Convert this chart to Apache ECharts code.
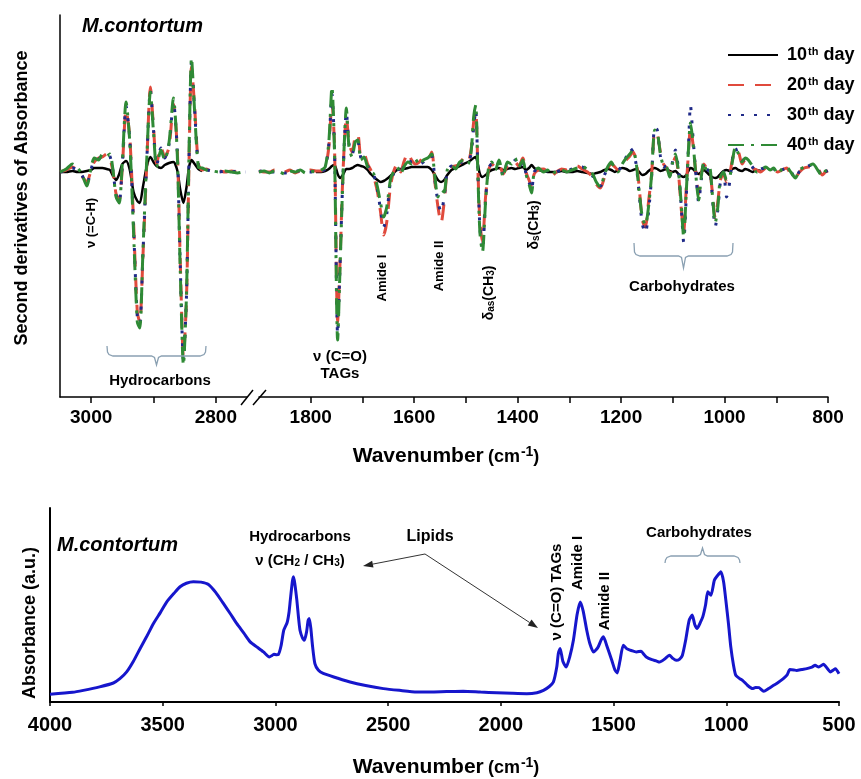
<!DOCTYPE html>
<html>
<head>
<meta charset="utf-8">
<title>M.contortum FTIR spectra</title>
<script src="https://cdn.jsdelivr.net/npm/echarts@6/dist/echarts.min.js"></script>
<style>
    html, body { margin: 0; padding: 0; background: #fff; }
    #chart { width: 861px; height: 779px; }
</style>
</head>
<body>
<div id="chart"></div>
<script>

// Wavenumbers (cm-1) of the second derivative spectra, left and right of the axis break
var wnLeft = [
    3050, 3040, 3030, 3022, 3015, 3007, 3000, 2995, 2988, 2982,
    2975, 2970, 2965, 2960, 2955, 2950, 2944, 2938, 2932, 2926,
    2922, 2917, 2911, 2905, 2900, 2895, 2888, 2882, 2875, 2868,
    2862, 2857, 2852, 2847, 2843, 2839, 2834, 2828, 2822, 2815,
    2805, 2795, 2785, 2775, 2765, 2755, 2752
];
var wnRight = [
    1900, 1890, 1880, 1870, 1860, 1850, 1840, 1830, 1820, 1810,
    1800, 1790, 1780, 1772, 1765, 1759, 1754, 1748, 1743, 1738,
    1731, 1726, 1720, 1714, 1709, 1703, 1697, 1690, 1684, 1678,
    1671, 1665, 1659, 1653, 1646, 1640, 1633, 1626, 1620, 1612,
    1605, 1598, 1590, 1582, 1574, 1566, 1560, 1554, 1548, 1542,
    1536, 1528, 1520, 1512, 1504, 1496, 1490, 1485, 1481, 1477,
    1473, 1468, 1462, 1456, 1450, 1443, 1436, 1428, 1420, 1412,
    1405, 1398, 1390, 1384, 1378, 1373, 1368, 1360, 1350, 1342,
    1335, 1325, 1315, 1305, 1295, 1285, 1275, 1265, 1255, 1248,
    1240, 1232, 1225, 1219, 1212, 1206, 1198, 1190, 1183, 1177,
    1171, 1165, 1159, 1153, 1147, 1141, 1135, 1130, 1124, 1118,
    1112, 1106, 1100, 1095, 1089, 1084, 1079, 1074, 1069, 1066,
    1061, 1056, 1050, 1045, 1040, 1035, 1029, 1024, 1018, 1013,
    1008, 1002, 996, 990, 985, 979, 973, 966, 960, 954,
    946, 938, 930, 920, 912, 905, 897, 889, 880, 872,
    863, 855, 846, 838, 829, 820, 811, 805, 800
];

// Second derivative values (a.u.)
var day10Left = [
    0.00, 0.00, 0.01, 0.00, 0.00, 0.01, 0.02, 0.04, 0.04, 0.04,
    0.03, 0.02, -0.04, -0.08, -0.02, 0.08, 0.11, 0.02, -0.20, -0.29,
    -0.31, -0.15, 0.05, 0.15, 0.10, 0.06, 0.04, 0.07, 0.09, 0.10,
    0.02, -0.18, -0.31, -0.15, 0.05, 0.12, 0.08, 0.03, 0.01, null,
    null, null, null, null, null, null, null
];
var day20Left = [
    0.00, 0.02, 0.05, 0.01, -0.04, -0.10, 0.02, 0.10, 0.14, 0.15,
    0.18, 0.14, 0.00, -0.22, -0.28, 0.05, 0.62, 0.35, -0.50, -1.40,
    -1.50, -0.85, 0.05, 0.85, 0.45, 0.08, 0.25, 0.15, 0.25, 0.68,
    0.25, -0.90, -1.85, -1.25, 0.10, 1.05, 0.65, 0.08, 0.02, 0.03,
    0.00, 0.01, 0.00, 0.01, 0.00, -0.01, 0.00
];
var day30Left = [
    0.00, 0.01, 0.04, 0.02, -0.03, -0.12, 0.03, 0.12, 0.13, 0.16,
    0.17, 0.16, 0.01, -0.23, -0.30, 0.08, 0.66, 0.32, -0.55, -1.45,
    -1.52, -0.82, 0.08, 0.82, 0.42, 0.06, 0.24, 0.14, 0.28, 0.70,
    0.22, -0.95, -1.88, -1.22, 0.15, 1.10, 0.62, 0.06, 0.03, 0.02,
    0.01, 0.00, 0.01, 0.00, 0.01, 0.00, 0.00
];
var day40Left = [
    0.00, 0.03, 0.08, 0.04, -0.02, -0.14, 0.05, 0.14, 0.12, 0.18,
    0.16, 0.18, 0.02, -0.25, -0.31, 0.10, 0.70, 0.30, -0.60, -1.50,
    -1.56, -0.80, 0.10, 0.80, 0.40, 0.05, 0.22, 0.12, 0.30, 0.74,
    0.20, -1.00, -1.93, -1.20, 0.20, 1.14, 0.60, 0.05, 0.04, 0.02,
    0.01, 0.00, 0.01, 0.00, -0.01, 0.00, 0.00
];

var day10Right = [
    null, null, null, null, null, null, null, null, null, null,
    null, 0.00, 0.00, 0.01, 0.03, 0.06, 0.07, -0.02, -0.06, -0.03,
    0.03, 0.03, 0.04, 0.06, 0.07, 0.06, 0.05, 0.02, -0.02, -0.05,
    -0.08, -0.10, -0.09, -0.07, -0.04, -0.01, 0.02, 0.03, 0.03, 0.04,
    0.05, 0.05, 0.05, 0.05, 0.05, 0.02, -0.03, -0.08, -0.10, -0.08,
    -0.03, 0.02, 0.04, 0.06, 0.08, 0.10, 0.12, 0.14, 0.15, 0.08,
    -0.02, -0.05, -0.03, 0.00, 0.02, 0.03, 0.04, 0.02, 0.03, 0.04,
    0.03, 0.04, 0.05, 0.02, 0.04, 0.07, 0.04, 0.02, 0.01, 0.00,
    0.00, 0.00, 0.01, 0.00, 0.00, 0.01, 0.00, -0.01, -0.02, -0.01,
    0.00, 0.02, 0.03, 0.02, 0.00, 0.02, 0.04, 0.03, 0.01, 0.02,
    0.03, 0.00, -0.03, -0.02, 0.01, 0.03, 0.04, 0.03, 0.01, 0.02,
    0.03, 0.01, 0.00, 0.01, -0.02, -0.04, -0.05, -0.03, 0.02, 0.04,
    0.03, 0.00, -0.02, 0.00, 0.02, 0.00, -0.03, -0.05, -0.06, -0.05,
    -0.02, 0.01, 0.02, 0.01, 0.03, 0.04, 0.02, 0.01, 0.03, 0.02,
    0.00, 0.02, 0.01, null, null, null, null, null, null, null,
    null, null, null, null, null, null, null, null, null
];
var day20Right = [
    0.01, 0.00, 0.00, 0.02, -0.01, 0.00, 0.02, -0.01, 0.01, 0.00,
    0.02, 0.01, 0.01, 0.04, 0.25, 0.70, 0.25, -1.50, -0.85, -0.05,
    0.55, 0.30, 0.20, 0.35, 0.38, 0.15, 0.18, 0.08, 0.02, -0.05,
    -0.20, -0.40, -0.63, -0.50, -0.15, 0.00, 0.08, 0.00, 0.10, 0.19,
    0.12, 0.08, 0.10, 0.15, 0.12, 0.20, -0.10, -0.35, -0.51, -0.30,
    0.00, 0.05, 0.06, 0.08, 0.14, 0.10, 0.22, 0.50, 0.60, 0.05,
    -0.50, -0.70, -0.25, 0.02, 0.08, 0.05, 0.08, -0.02, 0.06, 0.10,
    0.10, 0.06, 0.14, 0.00, -0.08, -0.15, -0.02, 0.02, 0.03, 0.00,
    -0.04, 0.00, 0.03, 0.02, 0.05, 0.06, 0.03, 0.00, -0.05, -0.12,
    -0.16, -0.05, 0.04, 0.08, 0.05, 0.02, 0.06, 0.12, 0.16, 0.20,
    0.12, -0.15, -0.48, -0.55, -0.30, -0.02, 0.40, 0.38, 0.20, 0.08,
    0.04, -0.02, 0.08, 0.15, -0.02, -0.35, -0.60, -0.15, 0.25, 0.45,
    0.28, 0.02, -0.22, -0.02, 0.08, 0.04, 0.02, -0.18, -0.46, -0.30,
    -0.08, -0.02, -0.10, -0.02, 0.12, 0.22, 0.20, 0.08, 0.12, 0.10,
    0.04, 0.02, 0.00, 0.04, 0.03, 0.02, 0.00, 0.02, 0.04, -0.02,
    -0.05, 0.00, 0.04, 0.05, 0.06, 0.04, -0.03, 0.00, 0.01
];
var day30Right = [
    0.00, 0.02, 0.00, 0.00, 0.01, -0.01, 0.00, 0.01, 0.01, 0.00,
    0.00, 0.01, 0.01, 0.03, 0.28, 0.78, 0.22, -1.62, -0.88, -0.08,
    0.60, 0.28, 0.18, 0.28, 0.30, 0.14, 0.12, 0.06, 0.02, -0.03,
    -0.18, -0.38, -0.55, -0.42, -0.10, -0.02, 0.06, -0.03, 0.06, 0.12,
    0.10, 0.10, 0.08, 0.10, 0.16, 0.16, -0.08, -0.30, -0.40, -0.25,
    0.00, 0.06, 0.04, 0.09, 0.10, 0.10, 0.18, 0.45, 0.62, 0.03,
    -0.55, -0.78, -0.28, 0.04, 0.08, 0.04, 0.10, -0.03, 0.08, 0.06,
    0.12, 0.04, 0.10, -0.01, -0.10, -0.18, 0.00, 0.03, 0.01, 0.01,
    -0.02, 0.00, 0.02, 0.01, 0.03, 0.05, 0.05, 0.01, -0.04, -0.11,
    -0.14, -0.03, 0.05, 0.09, 0.04, 0.01, 0.08, 0.15, 0.24, 0.20,
    0.08, -0.22, -0.52, -0.61, -0.40, -0.05, 0.45, 0.42, 0.16, 0.05,
    0.06, -0.04, 0.12, 0.22, 0.02, -0.32, -0.70, -0.25, 0.35, 0.67,
    0.35, 0.02, -0.30, -0.08, 0.08, 0.00, 0.04, -0.22, -0.55, -0.38,
    -0.10, 0.00, -0.25, -0.10, 0.12, 0.24, 0.16, 0.12, 0.12, 0.10,
    0.05, 0.00, 0.03, 0.04, 0.01, 0.03, -0.02, 0.02, 0.04, 0.01,
    -0.07, 0.01, 0.04, 0.06, 0.07, 0.03, -0.05, 0.00, 0.02
];
var day40Right = [
    0.00, 0.01, -0.01, 0.01, 0.00, -0.02, 0.01, 0.00, 0.02, -0.01,
    0.01, 0.00, 0.02, 0.05, 0.30, 0.85, 0.20, -1.68, -0.90, -0.10,
    0.64, 0.25, 0.15, 0.30, 0.32, 0.12, 0.15, 0.05, 0.00, -0.02,
    -0.15, -0.31, -0.45, -0.35, -0.08, 0.00, 0.05, -0.02, 0.05, 0.10,
    0.08, 0.13, 0.07, 0.12, 0.14, 0.18, -0.05, -0.25, -0.18, -0.20,
    0.02, 0.07, 0.03, 0.10, 0.12, 0.08, 0.20, 0.55, 0.67, 0.00,
    -0.60, -0.80, -0.30, 0.05, 0.10, 0.02, 0.12, -0.05, 0.10, 0.08,
    0.14, 0.05, 0.12, -0.02, -0.12, -0.21, 0.00, 0.04, 0.00, 0.02,
    -0.03, 0.01, 0.02, 0.00, 0.02, 0.04, 0.06, 0.02, -0.02, -0.10,
    -0.15, -0.02, 0.06, 0.10, 0.03, 0.00, 0.08, 0.14, 0.18, 0.22,
    0.10, -0.20, -0.45, -0.53, -0.35, -0.03, 0.42, 0.40, 0.18, 0.06,
    0.05, -0.05, 0.10, 0.18, 0.00, -0.30, -0.65, -0.20, 0.30, 0.49,
    0.30, 0.00, -0.28, -0.05, 0.10, 0.02, 0.05, -0.20, -0.51, -0.35,
    -0.05, 0.00, -0.08, -0.05, 0.10, 0.25, 0.18, 0.10, 0.14, 0.12,
    0.06, 0.00, 0.02, 0.05, 0.02, 0.04, -0.02, 0.03, 0.05, 0.00,
    -0.06, 0.02, 0.05, 0.06, 0.08, 0.02, -0.04, 0.01, 0.02
];

var dayNames = ['10th day', '20th day', '30th day', '40th day'];

// Axis ticks of the broken axis
var ticksLeft = [2800, 2900, 3000];
var labelsLeft = [2800, 3000];
var ticksRight = [800, 900, 1000, 1100, 1200, 1300, 1400, 1500, 1600, 1700, 1800];
var labelsRight = [800, 1000, 1200, 1400, 1600, 1800];

// Absorbance spectrum, 4000 - 500 cm-1
var wnFull = [
    4000, 3900, 3852, 3780, 3719, 3690, 3660, 3630, 3600, 3570,
    3541, 3510, 3482, 3450, 3423, 3395, 3364, 3330, 3297, 3265,
    3231, 3200, 3172, 3140, 3112, 3080, 3053, 3027, 3015, 3006,
    2995, 2987, 2975, 2963, 2948, 2940, 2934, 2925, 2920, 2914,
    2905, 2898, 2891, 2880, 2872, 2862, 2855, 2850, 2843, 2835,
    2825, 2810, 2788, 2730, 2669, 2600, 2521, 2450, 2373, 2313,
    2240, 2167, 2090, 2018, 1950, 1885, 1840, 1811, 1785, 1767,
    1752, 1745, 1737, 1725, 1710, 1695, 1678, 1662, 1648, 1635,
    1619, 1605, 1589, 1570, 1555, 1545, 1530, 1508, 1494, 1484,
    1472, 1457, 1442, 1427, 1412, 1398, 1378, 1365, 1355, 1330,
    1311, 1296, 1275, 1252, 1237, 1222, 1208, 1195, 1180, 1165,
    1151, 1140, 1129, 1115, 1104, 1092, 1082, 1068, 1053, 1040,
    1024, 1012, 1002, 990, 980, 968, 958, 940, 928, 905,
    884, 870, 855, 834, 812, 790, 770, 747, 730, 718,
    700, 688, 665, 643, 620, 606, 590, 569, 550, 538,
    525, 516, 500
];
var absorbance = [
    0.040, 0.050, 0.060, 0.078, 0.098, 0.120, 0.155, 0.210, 0.276, 0.340,
    0.405, 0.462, 0.516, 0.560, 0.594, 0.612, 0.620, 0.618, 0.606, 0.565,
    0.508, 0.455, 0.405, 0.355, 0.310, 0.282, 0.258, 0.232, 0.240, 0.246,
    0.244, 0.245, 0.290, 0.370, 0.410, 0.460, 0.525, 0.620, 0.645, 0.610,
    0.525, 0.440, 0.370, 0.330, 0.318, 0.360, 0.420, 0.430, 0.380, 0.284,
    0.198, 0.165, 0.147, 0.125, 0.103, 0.085, 0.069, 0.060, 0.052, 0.052,
    0.054, 0.055, 0.051, 0.048, 0.045, 0.043, 0.048, 0.060, 0.080, 0.103,
    0.180, 0.250, 0.276, 0.210, 0.180, 0.230, 0.320, 0.450, 0.516, 0.470,
    0.370, 0.300, 0.258, 0.280, 0.320, 0.336, 0.290, 0.215, 0.165, 0.150,
    0.210, 0.293, 0.275, 0.267, 0.262, 0.258, 0.262, 0.245, 0.232, 0.218,
    0.212, 0.206, 0.220, 0.241, 0.225, 0.215, 0.220, 0.240, 0.320, 0.420,
    0.448, 0.400, 0.379, 0.410, 0.440, 0.500, 0.568, 0.550, 0.628, 0.650,
    0.671, 0.620, 0.525, 0.400, 0.284, 0.190, 0.138, 0.120, 0.112, 0.085,
    0.069, 0.075, 0.074, 0.055, 0.070, 0.086, 0.100, 0.120, 0.140, 0.167,
    0.165, 0.163, 0.168, 0.172, 0.180, 0.189, 0.180, 0.194, 0.170, 0.155,
    0.165, 0.172, 0.146
];


var FONT = 'Arial, "Liberation Sans", sans-serif';

var supRich = {
    sup: { fontSize: 11, fontWeight: 'bold', fontFamily: FONT, lineHeight: 11, padding: [0, 0, 9, 1], verticalAlign: 'top' }
};
var subRich = {
    sub: { fontSize: 10, fontWeight: 'bold', fontFamily: FONT, lineHeight: 10, padding: [8, 0, 0, 0], verticalAlign: 'bottom' }
};
var titleRich = {
    w: { fontSize: 21, fontWeight: 'bold', fontFamily: FONT, lineHeight: 21, verticalAlign: 'bottom' },
    p: { fontSize: 18, fontWeight: 'bold', fontFamily: FONT, lineHeight: 18, verticalAlign: 'bottom' },
    sup: { fontSize: 14, fontWeight: 'bold', fontFamily: FONT, lineHeight: 14, padding: [0, 0, 11, 1], verticalAlign: 'top' }
};

function pairs(xs, ys) {
    return xs.map(function(x, i) { return [x, ys[i]]; });
}

// Annotation text
function label(x, y, text, o) {
    o = o || {};
    return {
        type: 'text',
        x: x,
        y: y,
        rotation: o.rotate ? Math.PI / 2 : 0,
        z: 20,
        style: {
            text: text,
            fill: '#000',
            fontFamily: FONT,
            fontSize: o.size || 15,
            fontWeight: o.weight || 'bold',
            fontStyle: o.italic ? 'italic' : 'normal',
            align: o.align || 'center',
            verticalAlign: 'middle',
            rich: o.rich
        }
    };
}

// Curly brace: ends at (x1, yEnd), flat part at yMid, tip at (xTip, yTip)
function brace(x1, x2, yEnd, yMid, yTip) {
    var xTip = (x1 + x2) / 2, s = yMid > yEnd ? 1 : -1;
    return {
        type: 'polyline',
        z: 20,
        shape: {
            points: [
                [x1, yEnd], [x1 + 0.5, yMid - 4 * s], [x1 + 2, yMid - 1.5 * s], [x1 + 6, yMid],
                [xTip - 5, yMid], [xTip - 2, yMid + 1.5 * s], [xTip, yTip],
                [xTip + 2, yMid + 1.5 * s], [xTip + 5, yMid],
                [x2 - 6, yMid], [x2 - 2, yMid - 1.5 * s], [x2 - 0.5, yMid - 4 * s], [x2, yEnd]
            ]
        },
        style: { fill: null, stroke: '#8aa0b2', lineWidth: 1.3 }
    };
}

function arrow(x1, y1, x2, y2) {
    var a = Math.atan2(y2 - y1, x2 - x1), len = 10, half = 3.5;
    var bx = x2 - len * Math.cos(a), by = y2 - len * Math.sin(a);
    return [{
        type: 'line', z: 20,
        shape: { x1: x1, y1: y1, x2: bx, y2: by },
        style: { stroke: '#333', lineWidth: 1 }
    }, {
        type: 'polygon', z: 20,
        shape: { points: [[x2, y2], [bx - half * Math.sin(a), by + half * Math.cos(a)], [bx + half * Math.sin(a), by - half * Math.cos(a)]] },
        style: { fill: '#222' }
    }];
}


var chartDom = document.getElementById('chart');
var chart = echarts.init(chartDom, null, { renderer: 'canvas' });

var dayStyles = [
    { color: '#000000', width: 2.5, type: 'solid' },
    { color: '#e04a3c', width: 3, type: [16, 11] },
    { color: '#1f2a88', width: 3, type: [3, 10] },
    { color: '#2f8a35', width: 3, type: [16, 7, 3, 7] }
];
var leftData = [day10Left, day20Left, day30Left, day40Left];
var rightData = [day10Right, day20Right, day30Right, day40Right];

var series = [];
dayNames.forEach(function(name, i) {
    var ls = { color: dayStyles[i].color, width: dayStyles[i].width, type: dayStyles[i].type };
    series.push({
        name: name, type: 'line', xAxisIndex: 0, yAxisIndex: 0,
        symbol: 'none', smooth: 0.25, connectNulls: false,
        itemStyle: { color: dayStyles[i].color },
        lineStyle: ls,
        data: pairs(wnLeft, leftData[i])
    });
    series.push({
        name: name, type: 'line', xAxisIndex: 1, yAxisIndex: 1,
        symbol: 'none', smooth: 0.25, connectNulls: false,
        itemStyle: { color: dayStyles[i].color },
        lineStyle: ls,
        data: pairs(wnRight, rightData[i])
    });
});
series.push({
    name: 'Absorbance', type: 'line', xAxisIndex: 2, yAxisIndex: 2,
    symbol: 'none', smooth: 0.2,
    itemStyle: { color: '#1616cc' },
    lineStyle: { color: '#1616cc', width: 3 },
    data: pairs(wnFull, absorbance)
});

var axisLineStyle = { color: '#000', width: 1.5 };
var plainNumber = function(v) { return String(v); };
var tickLabelTop = { color: '#000', fontFamily: FONT, fontSize: 19, fontWeight: 'bold', formatter: plainNumber };
var tickLabelBottom = { color: '#000', fontFamily: FONT, fontSize: 20, fontWeight: 'bold', formatter: plainNumber };

// Graphic overlay: labels, braces, arrows, axis break
var graphics = [
    // top panel
    label(82, 26, 'M.contortum', { size: 20, italic: true, align: 'left' }),
    label(22, 198, 'Second derivatives of Absorbance', { size: 18, rotate: true }),
    label(446, 456, '{w|Wavenumber} {p|(cm}{sup|-1}{p|)}', { rich: titleRich }),
    label(91, 223, 'ν (=C-H)', { size: 13, rotate: true }),
    brace(107, 206, 346, 356, 365),
    label(160, 381, 'Hydrocarbons', { size: 15 }),
    label(340, 357, 'ν (C=O)', { size: 15 }),
    label(340, 374, 'TAGs', { size: 15 }),
    label(382, 278, 'Amide I', { size: 13, rotate: true }),
    label(439, 266, 'Amide II', { size: 13, rotate: true }),
    label(489, 293, '{n|δ}{sub|as}{n|(CH}{sub|3}{n|)}', { size: 13, rotate: true,
        rich: { n: { fontSize: 14, fontWeight: 'bold', fontFamily: FONT }, sub: subRich.sub } }),
    label(534, 225, '{n|δ}{sub|s}{n|(CH}{sub|3}{n|)}', { size: 13, rotate: true,
        rich: { n: { fontSize: 14, fontWeight: 'bold', fontFamily: FONT }, sub: subRich.sub } }),
    brace(634, 733, 243, 256, 268),
    label(682, 287, 'Carbohydrates', { size: 15 }),
    { type: 'line', z: 20, shape: { x1: 241, y1: 405, x2: 253, y2: 390 }, style: { stroke: '#000', lineWidth: 1.5 } },
    { type: 'line', z: 20, shape: { x1: 253, y1: 405, x2: 266, y2: 390 }, style: { stroke: '#000', lineWidth: 1.5 } },

    // bottom panel
    label(57, 545, 'M.contortum', { size: 20, italic: true, align: 'left' }),
    label(30, 623, 'Absorbance (a.u.)', { size: 18, rotate: true }),
    label(446, 767, '{w|Wavenumber} {p|(cm}{sup|-1}{p|)}', { rich: titleRich }),
    label(300, 537, 'Hydrocarbons', { size: 15 }),
    label(300, 561, 'ν (CH{sub|2} / CH{sub|3})', { size: 15, rich: subRich }),
    label(430, 537, 'Lipids', { size: 16 }),
    label(557, 592, 'ν (C=O) TAGs', { size: 15, rotate: true }),
    label(578, 563, 'Amide I', { size: 15, rotate: true }),
    label(605, 601, 'Amide II', { size: 15, rotate: true }),
    brace(665, 740, 563, 556, 548),
    label(699, 533, 'Carbohydrates', { size: 15 })
].concat(arrow(425, 554, 363, 566), arrow(425, 554, 538, 628));

var option = {
    backgroundColor: '#ffffff',
    animation: false,
    textStyle: { fontFamily: FONT },

    legend: {
        data: dayNames,
        orient: 'vertical',
        left: 722,
        top: 41,
        itemWidth: 50,
        itemHeight: 14,
        itemGap: 10,
        selectedMode: false,
        // hide the symbol drawn in the middle of line icons
        itemStyle: { opacity: 0, borderWidth: 0 },
        formatter: function(name) {
            return name.replace(/^(\d+)th/, '$1{sup|th}');
        },
        textStyle: {
            color: '#000', fontFamily: FONT, fontSize: 18, fontWeight: 'bold',
            padding: [0, 0, 0, 4],
            rich: supRich
        }
    },

    grid: [
        { left: 60, top: 15, width: 187, height: 382 },
        { left: 259, top: 15, width: 569, height: 382 },
        { left: 50, top: 508, width: 789, height: 194 }
    ],

    xAxis: [{
        gridIndex: 0, type: 'value', min: 2750, max: 3050, inverse: true,
        axisLine: { onZero: false, lineStyle: axisLineStyle },
        axisTick: { customValues: ticksLeft, length: 6, lineStyle: axisLineStyle },
        axisLabel: Object.assign({ customValues: labelsLeft, margin: 11 }, tickLabelTop),
        splitLine: { show: false }
    }, {
        gridIndex: 1, type: 'value', min: 800, max: 1900, inverse: true,
        axisLine: { onZero: false, lineStyle: axisLineStyle },
        axisTick: { customValues: ticksRight, length: 6, lineStyle: axisLineStyle },
        axisLabel: Object.assign({ customValues: labelsRight, margin: 11 }, tickLabelTop),
        splitLine: { show: false }
    }, {
        gridIndex: 2, type: 'value', min: 500, max: 4000, interval: 500, inverse: true,
        axisLine: { onZero: false, lineStyle: { color: '#000', width: 2 } },
        axisTick: { length: 4, lineStyle: axisLineStyle },
        axisLabel: Object.assign({ margin: 13 }, tickLabelBottom),
        splitLine: { show: false }
    }],

    yAxis: [{
        gridIndex: 0, type: 'value', min: -2.25, max: 1.57,
        axisLine: { show: true, onZero: false, lineStyle: axisLineStyle },
        axisTick: { show: false }, axisLabel: { show: false }, splitLine: { show: false }
    }, {
        gridIndex: 1, type: 'value', min: -2.25, max: 1.57, show: false,
        splitLine: { show: false }
    }, {
        gridIndex: 2, type: 'value', min: 0, max: 1,
        axisLine: { show: true, onZero: false, lineStyle: { color: '#000', width: 2 } },
        axisTick: { show: false }, axisLabel: { show: false }, splitLine: { show: false }
    }],

    graphic: graphics,
    series: series
};

chart.setOption(option);
</script>
</body>
</html>
